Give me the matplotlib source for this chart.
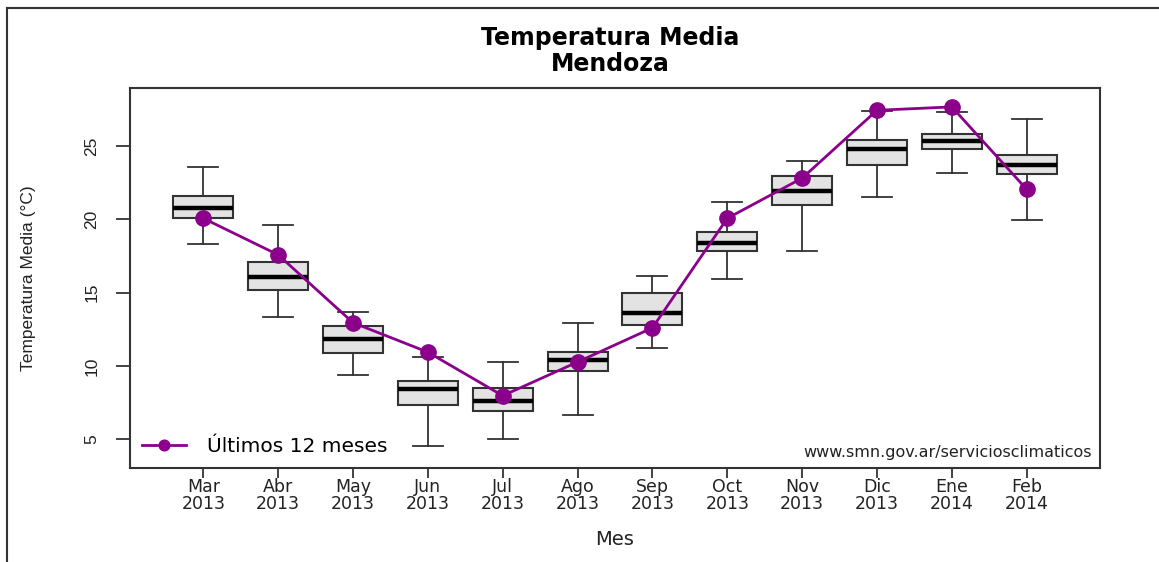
import matplotlib
matplotlib.use("Agg")
import matplotlib.pyplot as plt
from matplotlib.lines import Line2D

months = ["Mar\n2013", "Abr\n2013", "May\n2013", "Jun\n2013", "Jul\n2013", "Ago\n2013",
          "Sep\n2013", "Oct\n2013", "Nov\n2013", "Dic\n2013", "Ene\n2014", "Feb\n2014"]
whis_low = [18.34, 13.36, 9.41, 4.54, 5.02, 6.67, 11.23, 15.91, 17.86, 21.53, 23.17, 19.98]
q1 = [20.07, 15.21, 10.89, 7.35, 6.94, 9.63, 12.81, 17.86, 20.96, 23.74, 24.79, 23.10]
med = [20.77, 16.08, 11.87, 8.42, 7.58, 10.43, 13.61, 18.40, 21.92, 24.79, 25.32, 23.74]
q3 = [21.58, 17.12, 12.74, 8.95, 8.49, 10.96, 14.95, 19.11, 22.95, 25.39, 25.80, 24.36]
whis_high = [23.56, 19.61, 13.70, 10.60, 10.25, 12.90, 16.14, 21.16, 23.97, 27.40, 27.33, 26.83]
last12 = [20.07, 17.58, 12.95, 10.94, 7.97, 10.27, 12.60, 20.07, 22.81, 27.44, 27.67, 22.05]
yticks = [5, 10, 15, 20, 25]

plt.rcParams['font.family'] = ['DejaVu Sans']

fig = plt.figure(figsize=(11.59, 5.62), dpi=100)
ax = fig.add_axes([130/1159, 1-468/562, 970/1159, 380/562])

stats = []
for i in range(len(months)):
    stats.append(dict(whislo=whis_low[i], q1=q1[i], med=med[i], q3=q3[i],
                      whishi=whis_high[i], fliers=[]))
pos = list(range(1, len(months)+1))
ax.bxp(stats, positions=pos, widths=0.8, patch_artist=True, showfliers=False,
       boxprops=dict(facecolor='#e3e3e3', edgecolor='#333333', linewidth=1.5),
       medianprops=dict(color='black', linewidth=3.2, solid_capstyle='butt'),
       whiskerprops=dict(color='#333333', linewidth=1.3),
       capprops=dict(color='#333333', linewidth=1.3), capwidths=0.4)

ax.plot(pos, last12, color='#8b008b', linewidth=2, marker='o', markersize=11,
        label='Últimos 12 meses', zorder=5)

ax.set_xlim(0.02, 12.98)
ax.set_ylim(3.04, 28.96)
ax.set_xticks(pos)
ax.set_xticklabels(months, fontsize=12.5, linespacing=0.95)
ax.set_yticks(yticks)
ax.set_yticklabels([str(v) for v in yticks], rotation=90, va='center',
                   family='Liberation Sans', fontsize=12.5)
ax.tick_params(axis='x', length=7, width=1.2, pad=0, colors='#222222')
ax.tick_params(axis='y', length=10, width=1.2, pad=12, colors='#222222')
for s in ax.spines.values():
    s.set_linewidth(1.5)
    s.set_color('#333333')

ax.set_xlabel('Mes', fontsize=14, labelpad=12, color='#222222')
ax.set_ylabel('Temperatura Media (°C)', family='Liberation Sans', fontsize=12.5,
              labelpad=35, color='#222222')

fig.text(610/1159, 1-38/562, 'Temperatura Media', ha='center', va='center',
         fontsize=17, fontweight='bold')
fig.text(610/1159, 1-64/562, 'Mendoza', ha='center', va='center',
         fontsize=17, fontweight='bold')

leg = ax.legend(loc='lower left', frameon=False, fontsize=14.5, handlelength=2.2,
                markerscale=0.7, borderaxespad=0.2, handletextpad=1.0)
ax.text(0.992, 0.042, 'www.smn.gov.ar/serviciosclimaticos', transform=ax.transAxes,
        ha='right', va='center', fontsize=11.5, color='#222222')

fig.add_artist(Line2D([7/1159, 1], [1-8/562, 1-8/562], color='#333333', linewidth=1.5))
fig.add_artist(Line2D([7/1159, 7/1159], [0, 1-8/562], color='#333333', linewidth=1.5))

fig.savefig('out.png', dpi=100)
